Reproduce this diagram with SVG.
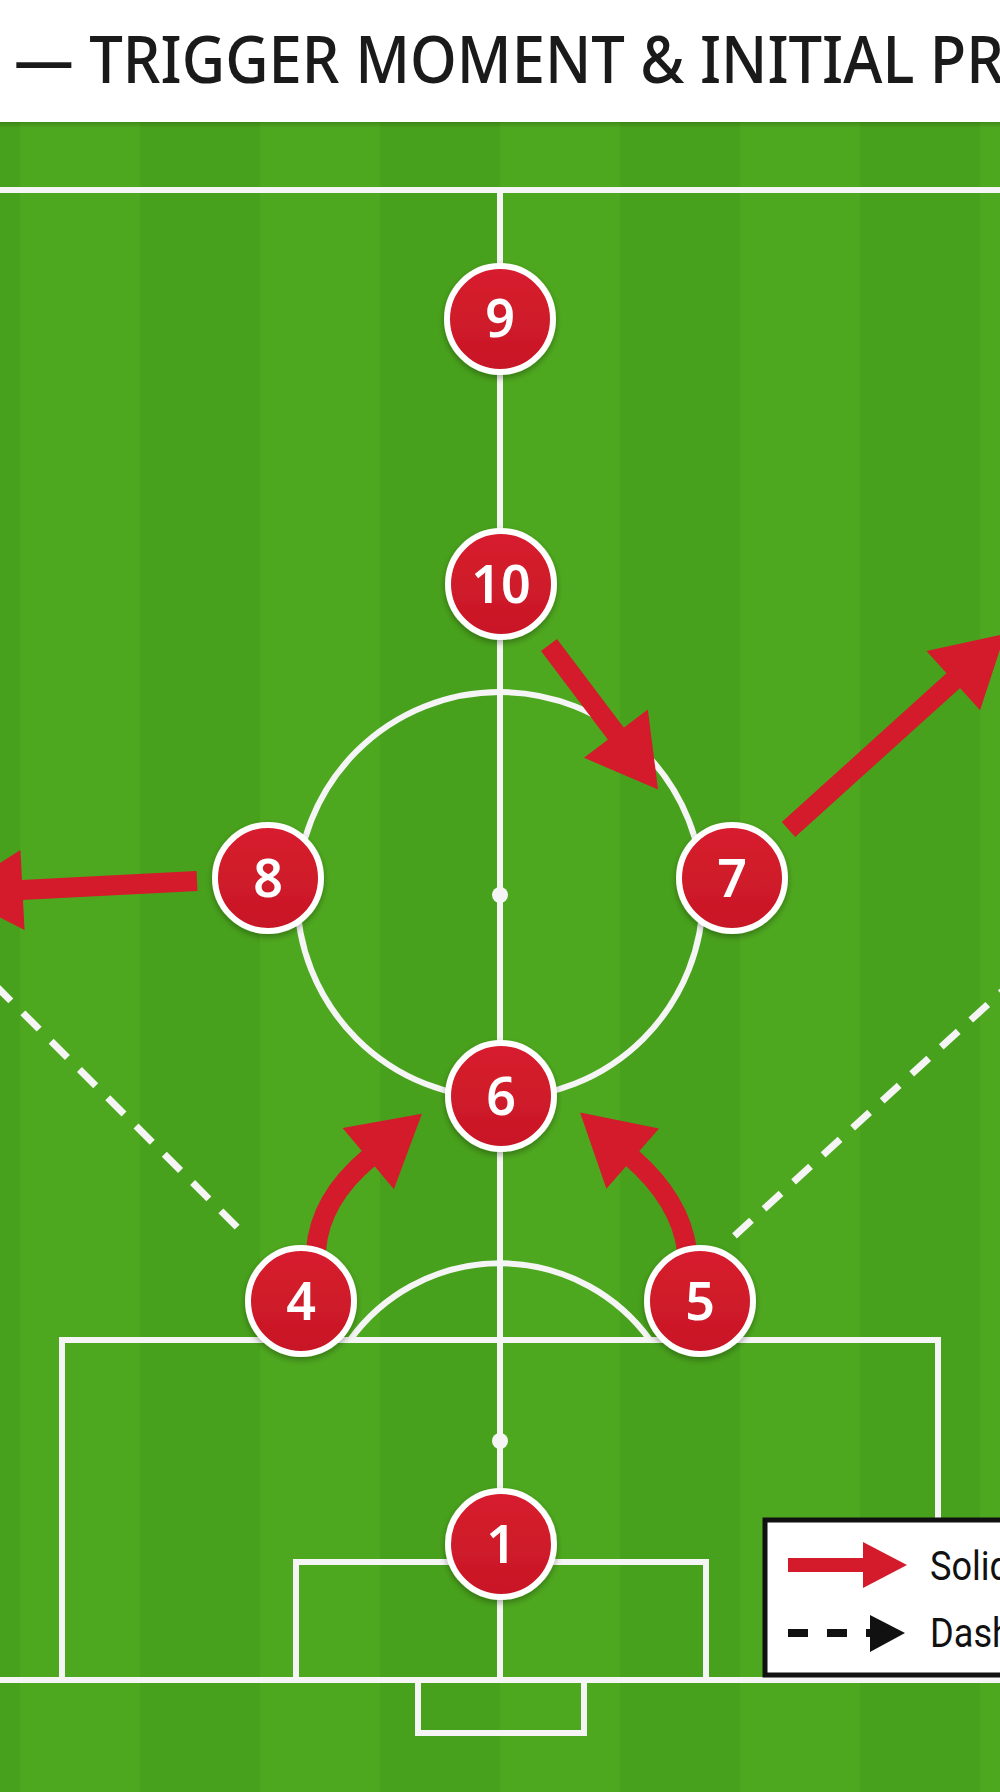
<svg xmlns="http://www.w3.org/2000/svg" width="1000" height="1792" viewBox="0 0 1000 1792">
  <style>
    .line { fill: none; stroke: #f5f5f5; stroke-width: 6; }
    .dash { fill: none; stroke: #f5f5f5; stroke-width: 7; stroke-dasharray: 23 17; }
    .move { fill: none; stroke: #d31b2c; stroke-width: 20; stroke-linecap: butt; }
    .disc { fill: url(#redg); stroke: #ffffff; stroke-width: 6; filter: url(#sh); }
    .num { font-family: "Noto Sans", "Open Sans", sans-serif; font-weight: 600; font-size: 52px; fill: #ffffff; text-anchor: middle; }
    .leg { font-family: Roboto, "Noto Sans", sans-serif; font-size: 40px; fill: #111111; }
    .title { font-family: "Noto Sans", "Open Sans", sans-serif; font-weight: 500; font-size: 66px; fill: #1a1a1a; }
  </style>
  <defs>
    <linearGradient id="redg" x1="0" y1="0" x2="0" y2="1">
      <stop offset="0" stop-color="#d71e2e"/>
      <stop offset="1" stop-color="#c81726"/>
    </linearGradient>
    <filter id="sh" x="-30%" y="-30%" width="160%" height="170%">
      <feDropShadow dx="0" dy="3" stdDeviation="3" flood-color="#000" flood-opacity="0.3"/>
    </filter>
    <marker id="rh" markerUnits="userSpaceOnUse" markerWidth="72" markerHeight="82" viewBox="0 -41 72 82" refX="1" refY="0" orient="auto" overflow="visible">
      <path d="M0,-40 L70,0 L0,40 z" fill="#d31b2c"/>
    </marker>
    <linearGradient id="hsh" x1="0" y1="0" x2="0" y2="1">
      <stop offset="0" stop-color="#000" stop-opacity="0.18"/>
      <stop offset="1" stop-color="#000" stop-opacity="0"/>
    </linearGradient>
  </defs>

  <!-- header -->
  <rect x="0" y="0" width="1000" height="122" fill="#ffffff"/>
  <text class="title" x="14" y="83" textLength="990" lengthAdjust="spacingAndGlyphs">— TRIGGER MOMENT &amp; INITIAL PR</text>

  <!-- pitch -->
  <g id="pitch">
    <rect x="0" y="122" width="1000" height="1670" fill="#4ea81f"/>
    <g fill="#48a11c">
      <rect x="0" y="122" width="20" height="1670"/>
      <rect x="140" y="122" width="120" height="1670"/>
      <rect x="380" y="122" width="120" height="1670"/>
      <rect x="620" y="122" width="120" height="1670"/>
      <rect x="860" y="122" width="120" height="1670"/>
    </g>
    <rect x="0" y="122" width="1000" height="6" fill="url(#hsh)"/>
    <line class="line" x1="0" y1="190" x2="1000" y2="190"/>
    <line class="line" x1="500" y1="190" x2="500" y2="1680"/>
    <circle class="line" cx="500" cy="895" r="203"/>
    <circle cx="500" cy="895" r="8" fill="#f5f5f5"/>
    <path class="line" d="M 350 1340 A 185 185 0 0 1 650 1340"/>
    <rect class="line" x="62" y="1340" width="876" height="340"/>
    <rect class="line" x="296" y="1562" width="410" height="118"/>
    <line class="line" x1="0" y1="1680" x2="1000" y2="1680"/>
    <rect class="line" x="418" y="1680" width="166" height="53"/>
    <circle cx="500" cy="1441" r="8" fill="#f5f5f5"/>
  </g>

  <!-- connectors -->
  <g id="connectors">
    <path class="dash" d="M -5.4 984.6 L 238 1228"/>
    <path class="dash" d="M 734.5 1235.8 L 1020 975"/>
    <path class="move" d="M 549 645 L 616.5 734.5" marker-end="url(#rh)"/>
    <path class="move" d="M 788.5 829.5 L 954 680" marker-end="url(#rh)"/>
    <path class="move" d="M 197 881 L 21.5 890" marker-end="url(#rh)"/>
    <path class="move" d="M 316 1250 Q 320 1199 369 1158" marker-end="url(#rh)"/>
    <path class="move" d="M 687 1250 Q 680 1200 632 1158" marker-end="url(#rh)"/>
  </g>

  <!-- players -->
  <g id="node-9"><circle class="disc" cx="500" cy="319" r="53"/><text class="num" x="500" y="337">9</text></g>
  <g id="node-10"><circle class="disc" cx="501" cy="584" r="53"/><text class="num" x="501" y="603">10</text></g>
  <g id="node-8"><circle class="disc" cx="268" cy="878" r="53"/><text class="num" x="268" y="897">8</text></g>
  <g id="node-7"><circle class="disc" cx="732" cy="878" r="53"/><text class="num" x="732" y="897">7</text></g>
  <g id="node-6"><circle class="disc" cx="501" cy="1096" r="53"/><text class="num" x="501" y="1115">6</text></g>
  <g id="node-4"><circle class="disc" cx="301" cy="1301" r="53"/><text class="num" x="301" y="1320">4</text></g>
  <g id="node-5"><circle class="disc" cx="700" cy="1301" r="53"/><text class="num" x="700" y="1320">5</text></g>
  <g id="node-1"><circle class="disc" cx="501" cy="1544" r="53"/><text class="num" x="501" y="1563">1</text></g>

  <!-- legend -->
  <g id="legend">
    <rect x="765" y="1520" width="260" height="155" fill="#ffffff" stroke="#111111" stroke-width="5"/>
    <rect x="788" y="1558" width="76" height="14" fill="#d31b2c"/>
    <polygon points="863,1542 907,1565 863,1588" fill="#d31b2c"/>
    <text class="leg" x="930" y="1580" textLength="80" lengthAdjust="spacingAndGlyphs">Solid</text>
    <line x1="788" y1="1633" x2="874" y2="1633" stroke="#111111" stroke-width="8" stroke-dasharray="20 19"/>
    <polygon points="870,1615 905,1633 870,1652" fill="#111111"/>
    <text class="leg" x="930" y="1647" textLength="82" lengthAdjust="spacingAndGlyphs">Dash</text>
  </g>
</svg>
